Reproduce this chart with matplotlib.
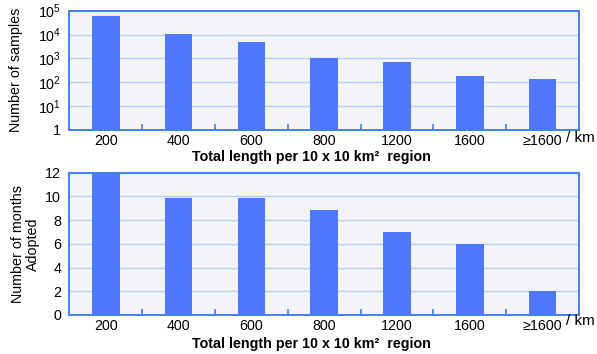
import math
import matplotlib
matplotlib.use("Agg")
import matplotlib.pyplot as plt
from matplotlib.ticker import FixedLocator, FuncFormatter, NullFormatter

plt.rcParams["font.family"] = ["Liberation Sans", "DejaVu Sans"]
plt.rcParams["mathtext.fontset"] = "custom"
plt.rcParams["mathtext.rm"] = "Liberation Sans"
plt.rcParams["mathtext.it"] = "Liberation Sans:italic"
plt.rcParams["mathtext.bf"] = "Liberation Sans:bold"

categories = ["200", "400", "600", "800", "1200", "1600", "\u22651600"]
samples = [60000, 10700, 4650, 1070, 680, 175, 140]
months = [12, 9.85, 9.85, 8.85, 7, 6, 2]
xlabel_text = "Total length per 10 x 10 km\u00b2  region"

BAR = "#4f78ff"
SPINE = "#3f80f0"
GRID = "#b7ccf6"
FACE = "#f3f4f7"
FS = 10.3

fig = plt.figure(figsize=(5.97, 3.54), dpi=100)
ax1 = fig.add_axes([0.1164, 0.6328, 0.9698 - 0.1164, 0.9698 - 0.6328])
ax2 = fig.add_axes([0.1164, 0.1102, 0.9698 - 0.1164, 0.5121 - 0.1102])

x = list(range(len(categories)))


def style(ax, unit_y):
    ax.set_facecolor(FACE)
    for s in ax.spines.values():
        s.set_color(SPINE)
        s.set_linewidth(1.4)
    ax.set_xlim(-0.5, len(categories) - 0.5)
    ax.set_xticks(x)
    ax.set_xticklabels(categories, fontsize=FS)
    ax.xaxis.set_minor_locator(FixedLocator([i + 0.5 for i in range(len(categories) - 1)]))
    ax.tick_params(axis="x", which="major", length=0, pad=3)
    ax.tick_params(axis="x", which="minor", direction="in", length=4, width=1.2, color=SPINE)
    ax.tick_params(axis="y", which="both", length=0, labelsize=FS, pad=6)
    ax.grid(axis="y", which="major", color=GRID, linewidth=1.0)
    ax.set_axisbelow(True)
    ax.set_xlabel(xlabel_text, fontsize=FS, fontweight="bold")
    ax.text(0.9745, unit_y, "/ km", transform=ax.transAxes, fontsize=11,
            ha="left", va="center", clip_on=False)


# Top: sample counts on a log scale
ax1.bar(x, samples, width=0.38, color=BAR, zorder=2)
ax1.set_yscale("log")
ax1.set_ylim(1, 1e5)
ax1.yaxis.set_major_locator(FixedLocator([1, 10, 100, 1e3, 1e4, 1e5]))
ax1.yaxis.set_minor_formatter(NullFormatter())
ax1.yaxis.set_major_formatter(FuncFormatter(
    lambda v, p: "1" if v == 1 else r"$10^{%d}$" % round(math.log10(v))))
ax1.set_ylabel("Number of samples", fontsize=FS)
style(ax1, -0.07)
ax1.tick_params(axis="y", which="minor", length=0)
ax1.xaxis.set_label_coords(0.475, -0.17)
ax1.yaxis.set_label_coords(-0.091, 0.5)

# Bottom: months adopted
ax2.bar(x, months, width=0.38, color=BAR, zorder=2)
ax2.set_ylim(0, 12)
ax2.set_yticks(range(0, 13, 2))
ax2.set_ylabel("Number of months\nAdopted", fontsize=FS, linespacing=1.15)
style(ax2, -0.04)
ax2.xaxis.set_label_coords(0.475, -0.155)
ax2.yaxis.set_label_coords(-0.057, 0.5)

fig.savefig("out.png", dpi=100)
